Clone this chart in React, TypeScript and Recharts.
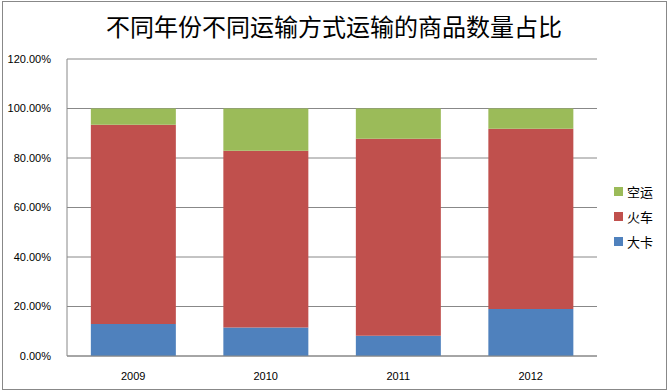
import { BarChart, Bar, XAxis, YAxis, CartesianGrid } from 'recharts';

const years = ['2009', '2010', '2011', '2012'];
const truck = [0.129, 0.115, 0.082, 0.19];
const train = [0.805, 0.714, 0.796, 0.728];
const air = [0.066, 0.171, 0.122, 0.082];
const yTicks = [0, 0.2, 0.4, 0.6, 0.8, 1.0, 1.2];

const series = [
    { key: 'truck', name: '大卡', color: '#4F81BD' },
    { key: 'train', name: '火车', color: '#C0504D' },
    { key: 'air', name: '空运', color: '#9BBB59' },
];

const chartData = years.map((year, i) => ({
    year,
    truck: truck[i],
    train: train[i],
    air: air[i],
}));

const labelFont = '"Liberation Sans", Arial, sans-serif';
const cjkFont = '"Noto Sans CJK SC", sans-serif';

// legend lists the series top-down in reverse stacking order, like Excel does
const ChartLegend = () => (
    <div style={{ display: 'flex', flexDirection: 'column', gap: 10 }}>
        {[...series].reverse().map((s) => (
            <div key={s.key} style={{ display: 'flex', alignItems: 'center', gap: 4, height: 15 }}>
                <div style={{ width: 9, height: 9, backgroundColor: s.color }} />
                <span style={{ fontSize: 13, lineHeight: '15px', fontFamily: cjkFont, color: '#000' }}>
                    {s.name}
                </span>
            </div>
        ))}
    </div>
);

export default function App() {
    return (
        <div style={{ position: 'absolute', left: 0, top: 0, width: 668, height: 392, background: '#fff' }}>
            <div
                style={{
                    position: 'absolute',
                    left: 2,
                    top: 1,
                    width: 665,
                    height: 389,
                    boxSizing: 'border-box',
                    border: '1px solid #888',
                }}
            />
            <div
                style={{
                    position: 'absolute',
                    top: 9,
                    left: 0,
                    width: 668,
                    textAlign: 'center',
                    fontSize: 24,
                    lineHeight: '34px',
                    fontFamily: cjkFont,
                    color: '#000',
                }}
            >
                不同年份不同运输方式运输的商品数量占比
            </div>
            <div style={{ position: 'absolute', left: 0, top: 0 }}>
                <BarChart
                    width={668}
                    height={392}
                    data={chartData}
                    margin={{ top: 59, right: 71, bottom: 6, left: 0 }}
                    barCategoryGap="18%"
                >
                    <CartesianGrid vertical={false} stroke="#888" />
                    <XAxis
                        dataKey="year"
                        height={30}
                        stroke="#888"
                        tickLine={false}
                        tickMargin={10}
                        tick={{ fill: '#000', fontSize: 11, fontFamily: labelFont }}
                    />
                    <YAxis
                        width={67}
                        domain={[0, 1.2]}
                        ticks={yTicks}
                        stroke="#888"
                        tickLine={false}
                        tickMargin={10}
                        tickFormatter={(v: number) => `${(v * 100).toFixed(2)}%`}
                        tick={{ fill: '#000', fontSize: 11, fontFamily: labelFont }}
                    />
                    {series.map((s) => (
                        <Bar
                            key={s.key}
                            dataKey={s.key}
                            name={s.name}
                            stackId="a"
                            fill={s.color}
                            isAnimationActive={false}
                        />
                    ))}
                </BarChart>
            </div>
            <div style={{ position: 'absolute', left: 614, top: 184 }}>
                <ChartLegend />
            </div>
        </div>
    );
}
